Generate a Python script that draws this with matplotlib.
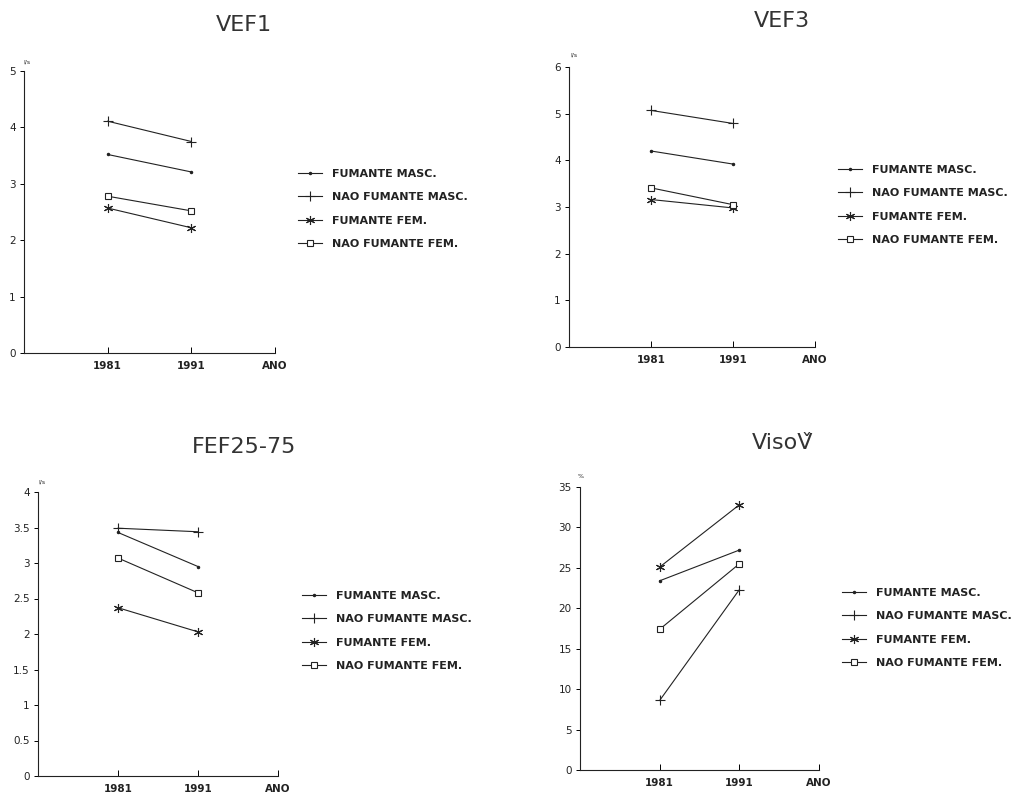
import numpy as np
import matplotlib
matplotlib.use('Agg')
import matplotlib.pyplot as plt

# Data
years = [1981, 1991]
series_names = ['FUMANTE MASC.', 'NAO FUMANTE MASC.', 'FUMANTE FEM.', 'NAO FUMANTE FEM.']

vef1_fm = [3.52, 3.21]
vef1_nfm = [4.11, 3.75]
vef1_ff = [2.57, 2.22]
vef1_nff = [2.78, 2.52]

vef3_fm = [4.20, 3.92]
vef3_nfm = [5.07, 4.79]
vef3_ff = [3.16, 2.98]
vef3_nff = [3.41, 3.05]

fef_fm = [3.43, 2.95]
fef_nfm = [3.49, 3.44]
fef_ff = [2.37, 2.03]
fef_nff = [3.07, 2.58]

viso_fm = [23.4, 27.2]
viso_nfm = [8.6, 22.3]
viso_ff = [25.1, 32.8]
viso_nff = [17.4, 25.5]

xtick_pos = [1981, 1991, 2001]
xtick_labels = ['1981', '1991', 'ANO']

W, H = 1021, 793
ink = '#222222'

# marker styles: small dot, plus, asterisk, open square
styles = [dict(marker='.', markersize=3),
          dict(marker='+', markersize=6.5, markeredgewidth=0.8),
          dict(marker=(6, 2, 0), markersize=6.5, markeredgewidth=0.8),
          dict(marker='s', markersize=5, markerfacecolor='white', markeredgewidth=0.8)]


def panel(box, title, title_xy, unit, unit_xy, ymax, ystep, yfmt, data, leg_xy):
    left, top, right, bottom = box
    ax = fig.add_axes([left / W, 1 - bottom / H, (right - left) / W, (bottom - top) / H])
    for vals, name, st in zip(data, series_names, styles):
        ax.plot(years, vals, color=ink, lw=0.8, label=name, **st)
    ax.set_xlim(1971, 2001)
    ax.set_ylim(0, ymax)
    yt = np.arange(0, ymax + ystep / 2, ystep)
    ax.set_yticks(yt)
    ax.set_yticklabels([yfmt(v) for v in yt], fontsize=7.5, color=ink)
    ax.set_xticks(xtick_pos)
    ax.set_xticklabels(xtick_labels, fontsize=7.5, color=ink, fontweight='semibold')
    ax.tick_params(axis='y', direction='out', length=3, width=0.7, pad=3)
    ax.tick_params(axis='x', direction='in', length=4, width=0.7, pad=6)
    for s in ['top', 'right']:
        ax.spines[s].set_visible(False)
    for s in ['left', 'bottom']:
        ax.spines[s].set_linewidth(0.8)
        ax.spines[s].set_color(ink)
    ax.patch.set_alpha(0)
    fig.text(title_xy[0] / W, 1 - title_xy[1] / H, title, fontsize=16, color='#333333',
             ha='center', va='center')
    fig.text(unit_xy[0] / W, 1 - unit_xy[1] / H, unit, fontsize=4.5, color=ink,
             ha='center', va='center')
    ax.legend(loc='upper left', bbox_to_anchor=(leg_xy[0] / W, 1 - leg_xy[1] / H),
              bbox_transform=fig.transFigure, frameon=False,
              prop=dict(size=8, weight='bold'),
              handlelength=2.2, handletextpad=0.9, labelspacing=1.2,
              borderpad=0, borderaxespad=0, labelcolor=ink)
    return ax


fig = plt.figure(figsize=(W / 100, H / 100), dpi=100)

fmt_int = lambda v: '%d' % v
fmt_half = lambda v: ('%d' % v) if v == int(v) else ('%.1f' % v)

panel((24, 71, 275, 353), 'VEF1', (244, 25), 'l/s', (27, 62), 5, 1, fmt_int,
      [vef1_fm, vef1_nfm, vef1_ff, vef1_nff], (298, 169))
panel((569, 67, 815, 347), 'VEF3', (782, 21), 'l/s', (574, 55), 6, 1, fmt_int,
      [vef3_fm, vef3_nfm, vef3_ff, vef3_nff], (838, 165))
panel((38, 492, 278, 776), 'FEF25-75', (244, 447), 'l/s', (42, 482), 4, 0.5, fmt_half,
      [fef_fm, fef_nfm, fef_ff, fef_nff], (302, 591))
panel((580, 487, 819, 770), 'VisoV\u030c', (783, 443), '%', (581, 477), 35, 5, fmt_int,
      [viso_fm, viso_nfm, viso_ff, viso_nff], (842, 588))

fig.savefig('out.png', dpi=100, facecolor='white')
